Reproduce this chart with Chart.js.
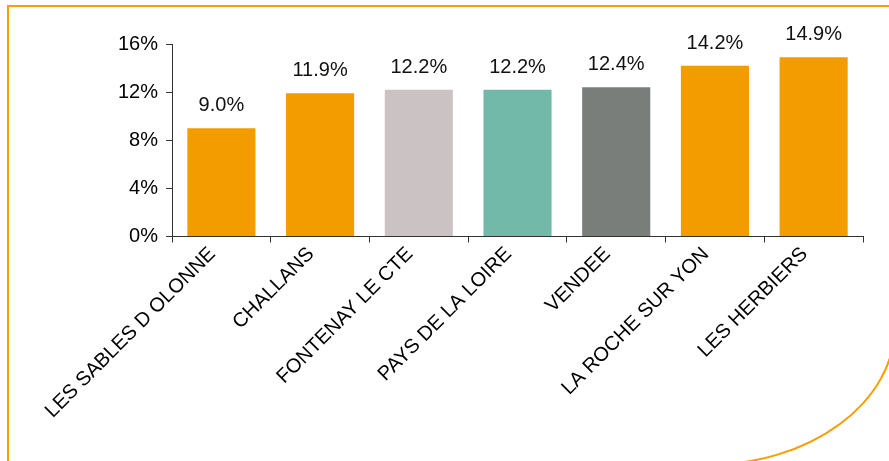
<!DOCTYPE html>
<html>
<head>
<meta charset="utf-8">
<script src="https://cdn.jsdelivr.net/npm/chart.js@4"></script>
<style>
  html, body { margin: 0; padding: 0; background: #fff; overflow: hidden; }
  #wrap { position: relative; width: 889px; height: 461px; overflow: hidden; }
  #frame {
    position: absolute; left: 7px; top: 5px; width: 889px; height: 461px;
    border: 2px solid #F4A000; border-bottom-right-radius: 190px 140px;
    box-sizing: border-box;
  }
  canvas { position: absolute; left: 0; top: 0; }
</style>
</head>
<body>
<div id="wrap">
  <div id="frame"></div>
  <canvas id="tauxChart" width="889" height="461"></canvas>
</div>
<script>
// categories et valeurs (en %)
const territoires = ['LES SABLES D OLONNE', 'CHALLANS', 'FONTENAY LE CTE', 'PAYS DE LA LOIRE', 'VENDEE', 'LA ROCHE SUR YON', 'LES HERBIERS'];
const taux = [9.0, 11.9, 12.2, 12.2, 12.4, 14.2, 14.9];
const couleurs = ['#F39C00', '#F39C00', '#CBC3C3', '#73B9A9', '#7A7E7B', '#F39C00', '#F39C00'];
const ticksY = [0, 4, 8, 12, 16];

const police = 'Liberation Sans, Arial, sans-serif';

// étiquettes de valeur au-dessus des barres
const valeurs = {
    id: 'valeurs',
    afterDatasetsDraw(chart) {
        const c = chart.ctx;
        const meta = chart.getDatasetMeta(0);
        c.save();
        c.font = '20px ' + police;
        c.fillStyle = '#111';
        c.textAlign = 'center';
        c.textBaseline = 'alphabetic';
        meta.data.forEach((bar, i) => {
            c.fillText(taux[i].toFixed(1) + '%', bar.x, bar.y - 17);
        });
        c.restore();
    }
};

const ctx = document.getElementById('tauxChart').getContext('2d');
new Chart(ctx, {
    type: 'bar',
    data: {
        labels: territoires,
        datasets: [{
            data: taux,
            backgroundColor: couleurs,
            borderWidth: 0,
            barPercentage: 0.69,
            categoryPercentage: 1
        }]
    },
    options: {
        responsive: false,
        animation: false,
        layout: { padding: { top: 44, right: 26, bottom: 38, left: 110 } },
        plugins: {
            legend: { display: false },
            tooltip: { enabled: false }
        },
        scales: {
            x: {
                offset: true,
                grid: { display: true, drawOnChartArea: false, offset: true, color: '#333', tickLength: 6 },
                border: { color: '#333', width: 1 },
                ticks: {
                    color: '#000',
                    font: { family: police, size: 20 },
                    minRotation: 45,
                    maxRotation: 45,
                    autoSkip: false,
                    padding: 0,
                    labelOffset: -9
                }
            },
            y: {
                min: 0,
                max: 16,
                afterBuildTicks(scale) { scale.ticks = ticksY.map(v => ({ value: v })); },
                grid: { display: true, drawOnChartArea: false, color: '#333', tickLength: 6 },
                border: { color: '#333', width: 1 },
                ticks: {
                    color: '#000',
                    font: { family: police, size: 20 },
                    padding: 8,
                    callback: v => v + '%'
                }
            }
        }
    },
    plugins: [valeurs]
});
</script>
</body>
</html>
